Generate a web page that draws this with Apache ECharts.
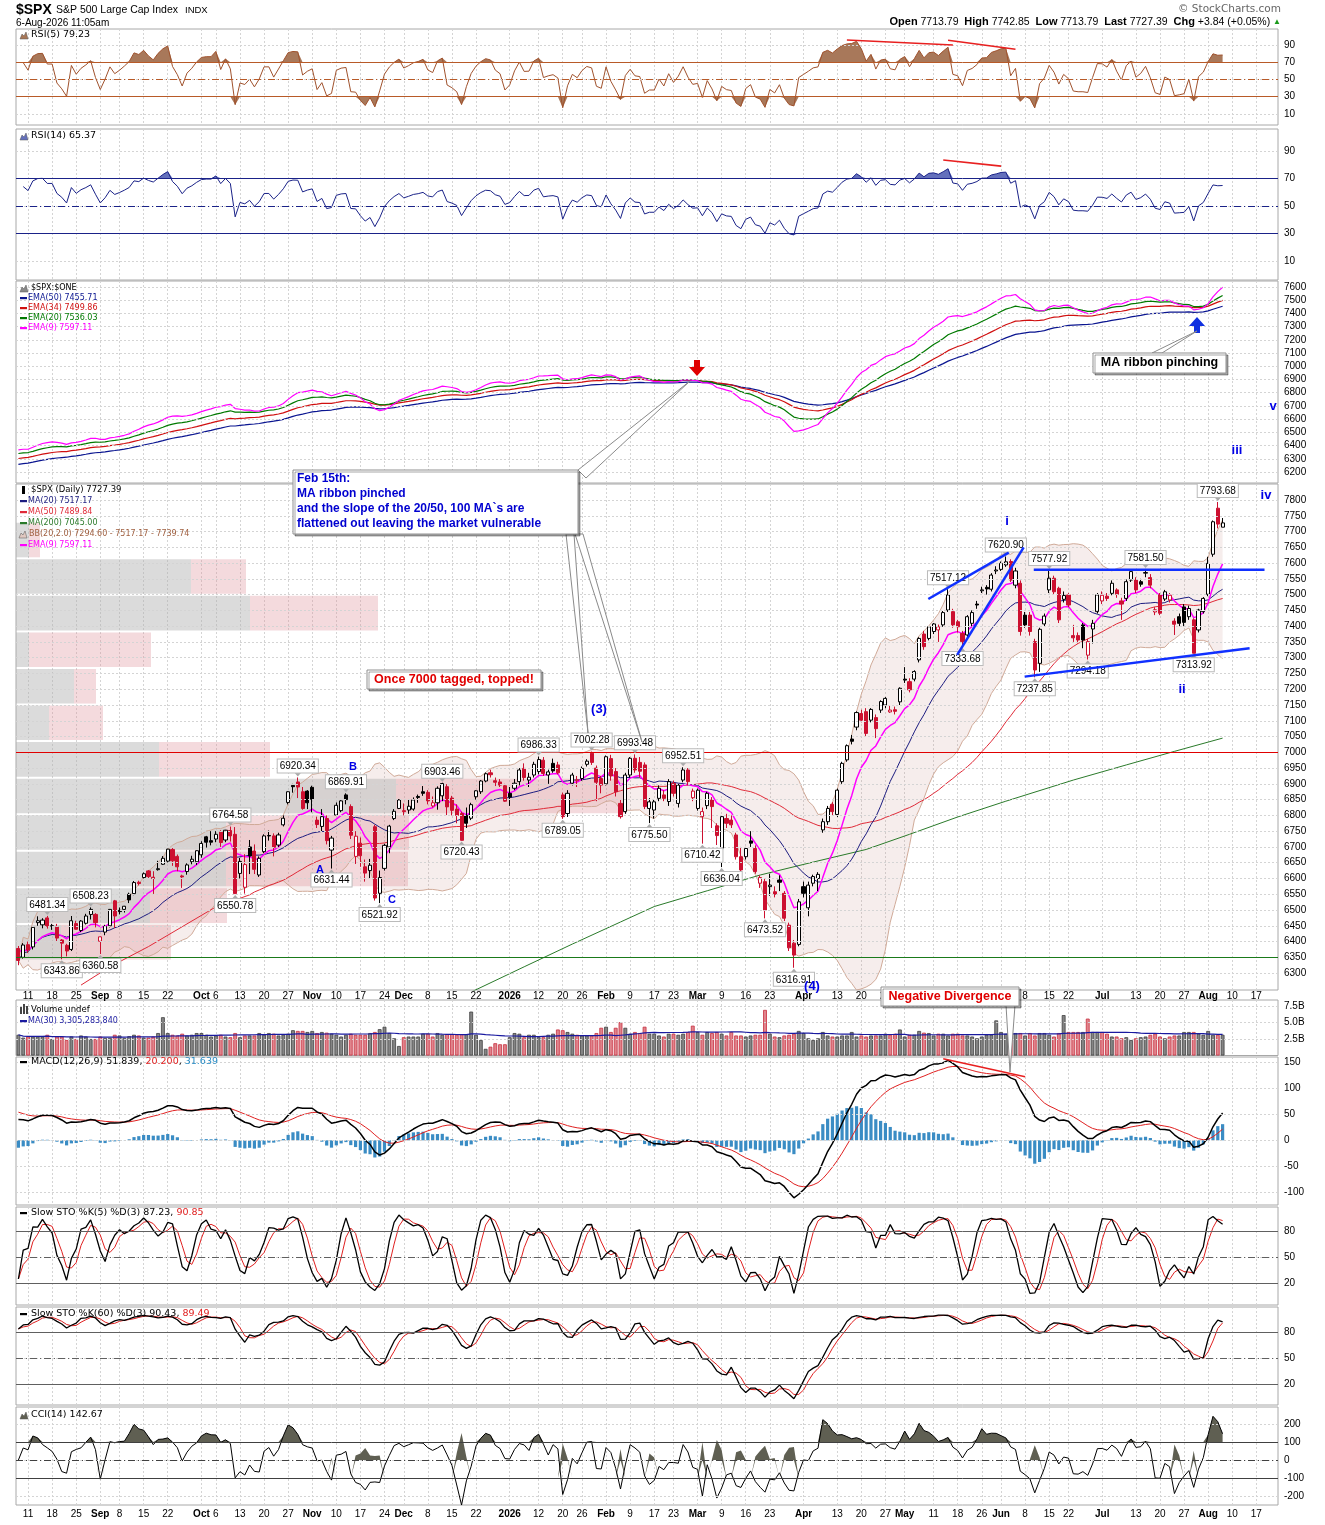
<!DOCTYPE html>
<html><head><meta charset="utf-8">
<script src="https://cdn.jsdelivr.net/npm/echarts@6/dist/echarts.min.js"></script>
<style>html,body{margin:0;padding:0;background:#fff}#c{width:1325px;height:1525px}</style>
</head><body><div id="c"></div>
<script>
// ---------------- DATA ----------------
const holidays = ['2025-09-01','2025-11-27','2025-12-25','2026-01-01','2026-01-19','2026-02-16','2026-04-03','2026-05-25','2026-06-19','2026-07-03'];
const firstDate = '2025-08-07';
const nCategories = 262; // 251 sessions + blank future sessions

// [open, high, low, close]
const candles = [
[6378,6386,6325,6340],[6350,6395,6346,6389],[6390,6400,6364,6373],[6383,6447,6375,6445],[6460,6480,6450,6466],
[6453,6474,6442,6468],[6475,6481.34,6441,6449],[6450,6456,6437,6449],[6446,6456,6400,6411],[6405,6408,6343.86,6395],
[6388,6393,6353,6370],[6375,6481,6370,6466],[6457,6466,6438,6439],[6435,6468,6430,6465],[6458,6488,6454,6481],
[6486,6508.23,6470,6502],[6486,6490,6445,6460],[6401,6416,6360.58,6415],[6430,6453,6420,6448],[6450,6503,6445,6502],
[6529,6532,6443,6481],[6499,6508,6486,6495],[6502,6513,6492,6512],[6550,6555,6522,6532],[6552,6592,6547,6587],
[6588,6593,6578,6584],[6603,6619,6600,6615],[6624,6627,6601,6606],[6604,6623,6551,6600],[6628,6656,6625,6631],
[6645,6671,6643,6664],[6655,6694,6651,6693],[6692,6699,6640,6656],[6670,6676,6623,6637],[6608,6612,6570,6605],
[6622,6648,6612,6643],[6653,6672,6645,6661],[6653,6689,6643,6688],[6675,6718,6666,6711],[6732,6735,6698,6715],
[6720,6750,6705,6715],[6725,6750,6715,6740],[6747,6753,6700,6714],[6722,6754,6715,6753],[6752,6764.58,6717,6735],
[6740,6763,6550.78,6552],[6616,6665,6600,6654],[6572,6677,6552,6644],[6700,6722,6614,6671],[6687,6708,6614,6629],
[6611,6670,6605,6664],[6685,6740,6680,6735],[6736,6752,6720,6735],[6735,6743,6670,6699],[6706,6745,6700,6738],
[6770,6800,6765,6791],[6841,6876,6835,6875],[6895,6900,6872,6891],[6906,6920.34,6855,6890],[6875,6890,6818,6822],
[6877,6880,6820,6840],[6889,6894,6810,6851],[6785,6796,6760,6771],[6765,6820,6750,6796],[6790,6800,6708,6720],
[6690,6735,6631.44,6728],[6801,6841,6800,6832],[6815,6850,6810,6846],[6865,6869.91,6835,6850],[6828,6835,6725,6737],
[6670,6750,6646,6734],[6712,6730,6637,6672],[6637,6660,6590,6617],[6625,6662,6600,6642],[6764,6770,6530,6538],
[6553,6625,6521.92,6603],[6632,6710,6625,6705],[6700,6770,6680,6766],[6790,6820,6785,6813],[6822,6852,6820,6849],
[6815,6838,6800,6812],[6817,6852,6805,6829],[6820,6857,6815,6849],[6860,6866,6840,6857],[6875,6893,6862,6870],
[6873,6880,6835,6846],[6830,6860,6825,6840],[6840,6892,6818,6886],[6862,6903.46,6845,6901],[6891,6899,6801,6827],
[6855,6862,6800,6816],[6820,6835,6775,6800],[6806,6812,6720.43,6721],[6800,6825,6760,6775],[6791,6840,6785,6834],
[6859,6880,6850,6878],[6875,6912,6868,6909],[6909,6936,6905,6932],[6935,6945,6920,6929],[6910,6920,6893,6905],
[6906,6915,6890,6896],[6894,6900,6843,6845],[6870,6890,6830,6858],[6886,6915,6880,6902],[6907,6950,6895,6944],
[6949,6965,6910,6920],[6912,6935,6890,6921],[6928,6970,6920,6962],[6939,6986.33,6930,6977],[6975,6985,6925,6933],
[6928,6945,6900,6938],[6965,6980,6935,6941],[6960,6970,6930,6935],[6865,6872,6789.05,6796],[6806,6880,6795,6870],
[6902,6935,6895,6928],[6910,6925,6890,6913],[6917,6955,6910,6949],[6962,6978,6955,6972],[6997,7002.28,6960,6968],
[6950,6958,6845,6905],[6917,6925,6870,6896],[6900,6990,6895,6986],[6980,6992,6910,6925],[6939,6950,6860,6875],
[6838,6850,6790,6796],[6812,6935,6805,6928],[6928,6985,6920,6981],[6981,6993.48,6935,6944],[6968,6985,6920,6940],
[6960,6968,6820,6828],[6822,6855,6775.50,6843],[6817,6850,6790,6843],[6854,6895,6845,6886],[6865,6880,6845,6854],
[6844,6915,6830,6907],[6902,6910,6860,6870],[6838,6900,6825,6896],[6912,6952.51,6905,6944],[6944,6950,6895,6907],
[6856,6885,6845,6877],[6822,6885,6815,6880],[6796,6825,6710.42,6812],[6831,6875,6820,6870],[6849,6858,6760,6828],
[6767,6775,6706,6736],[6696,6800,6636.04,6796],[6790,6805,6760,6775],[6785,6800,6760,6770],[6738,6745,6660,6669],
[6669,6700,6620,6627],[6669,6700,6660,6695],[6719,6750,6700,6712],[6695,6705,6615,6622],[6585,6610,6570,6603],
[6590,6600,6473.52,6500],[6574,6615,6545,6579],[6558,6575,6540,6550],[6595,6610,6560,6588],[6553,6560,6465,6474],
[6452,6460,6370,6380],[6395,6405,6316.91,6357],[6391,6535,6385,6526],[6574,6590,6540,6553],[6507,6590,6480,6579],
[6585,6612,6575,6606],[6600,6620,6560,6613],[6754,6790,6745,6780],[6780,6830,6770,6822],[6835,6842,6800,6812],
[6803,6885,6795,6880],[6907,6970,6900,6965],[6976,7025,6970,7021],[7042,7055,7025,7035],[7080,7130,7070,7126],
[7123,7135,7095,7102],[7129,7140,7050,7060],[7102,7140,7095,7136],[7110,7120,7045,7075],[7134,7165,7125,7161],
[7150,7175,7140,7171],[7128,7150,7125,7134],[7135,7145,7120,7130],[7160,7206,7150,7203],[7232,7270,7220,7229],
[7224,7235,7190,7198],[7232,7260,7225,7256],[7293,7365,7285,7361],[7375,7385,7325,7335],[7361,7400,7355,7398],
[7383,7410,7375,7407],[7388,7405,7350,7398],[7404,7448,7398,7443],[7451,7517.12,7445,7499],[7446,7455,7395,7404],
[7414,7420,7380,7398],[7377,7385,7333.68,7351],[7372,7435,7365,7430],[7409,7450,7400,7443],[7470,7480,7455,7467],
[7512,7525,7505,7515],[7523,7530,7500,7518],[7517,7568,7510,7562],[7575,7590,7565,7578],[7580,7605,7575,7599],
[7594,7620.90,7588,7604],[7605,7612,7540,7546],[7530,7585,7520,7575],[7536,7545,7370,7383],[7435,7445,7395,7404],
[7435,7445,7370,7383],[7351,7360,7237.85,7261],[7282,7395,7255,7390],[7407,7440,7400,7432],[7515,7577.92,7505,7552],
[7552,7560,7500,7509],[7520,7525,7410,7420],[7485,7510,7475,7497],[7499,7505,7460,7467],[7370,7404,7350,7363],
[7370,7380,7345,7356],[7404,7410,7330,7356],[7308,7360,7294.18,7351],[7391,7420,7345,7409],[7446,7505,7440,7499],
[7480,7510,7470,7498],[7495,7505,7480,7488],[7504,7545,7498,7536],[7515,7520,7490,7501],[7480,7490,7420,7470],
[7488,7548,7480,7541],[7546,7578,7540,7573],[7546,7555,7505,7515],[7541,7550,7525,7533],[7568,7581.50,7555,7570],
[7554,7565,7520,7530],[7445,7460,7435,7452],[7499,7505,7435,7441],[7486,7515,7480,7509],[7483,7505,7475,7498],
[7416,7425,7372,7406],[7430,7440,7400,7409],[7461,7470,7400,7412],[7430,7465,7420,7456],[7420,7425,7313.92,7314],
[7388,7455,7380,7451],[7446,7492,7440,7488],[7501,7620,7495,7599],[7628,7735,7620,7731],[7774,7793.68,7710,7723.55],
[7713.79,7742.85,7713.79,7727.39]
];

// daily volume, billions
const volumes = [
3.14,2.71,2.87,2.87,2.87,2.87,3.14,2.50,2.87,2.87,2.34,2.87,2.50,3.03,2.87,2.50,2.50,2.87,2.66,2.66,
3.14,3.03,2.66,2.93,3.14,3.03,2.71,2.71,2.87,3.40,5.80,3.40,3.14,3.03,3.30,3.03,3.14,3.40,3.40,3.14,
2.87,3.03,3.14,2.87,2.77,3.40,2.77,3.03,3.03,3.03,3.40,3.14,3.40,3.30,3.03,3.14,3.30,3.83,3.72,3.72,
3.56,3.72,3.40,3.56,3.46,3.30,3.14,2.87,3.14,3.30,3.14,3.14,3.14,3.40,3.56,3.99,4.36,3.40,2.61,1.44,
2.77,2.87,2.87,2.87,3.30,3.30,2.87,3.40,3.14,3.24,3.24,3.14,3.24,3.24,6.65,3.14,2.34,1.01,1.33,1.86,
1.70,1.70,2.77,3.40,3.30,2.77,3.14,3.14,2.77,2.77,3.14,3.30,3.94,3.83,3.56,3.30,3.14,3.03,3.03,3.03,
3.40,4.20,4.36,3.56,4.20,5.05,4.20,3.30,3.56,3.40,4.36,3.30,3.30,3.03,2.87,3.30,3.30,3.14,3.30,3.56,
4.52,3.56,3.14,3.56,3.40,3.56,3.30,3.03,3.56,3.03,3.03,2.87,3.03,3.14,3.14,6.91,3.30,2.87,2.77,3.03,
3.14,3.30,3.72,3.40,2.61,2.34,2.61,3.56,3.03,2.87,2.87,3.03,3.03,3.56,2.87,3.03,2.87,3.03,3.03,3.03,
3.30,3.14,3.30,3.94,2.87,3.14,3.14,3.72,3.46,3.40,3.03,3.30,3.30,3.03,3.30,3.30,3.03,3.03,2.87,2.61,
2.87,3.14,3.14,5.32,3.56,3.30,3.40,3.40,3.40,3.03,3.40,3.03,3.40,3.40,3.14,2.87,3.40,6.12,3.56,3.56,
3.56,3.56,5.59,3.56,3.56,3.56,3.30,2.87,2.87,2.61,2.77,2.34,2.61,2.77,2.87,3.14,3.30,2.87,2.61,2.87,
3.03,3.03,3.56,3.56,3.56,3.30,3.14,3.72,3.14,3.14,3.14
];

// MA(50) before 50 sessions exist, and MA(200) - [sessionIndex, value]
const ma50Early = [[13,6262],[19,6320],[27,6384],[34,6447],[41,6510],[48,6548]];
const ma200Read = [[94,6240],[105,6320],[115,6392],[125,6462],[132,6511],[143,6561],[154,6611],[165,6652],[176,6692],[185,6740],[195,6795],[205,6845],[219,6912],[230,6960],[240,7003],[250,7045]];
// indicator starting states, read at the left edge of each panel
const emaSeeds = {e9:6375, e12:6360, e20:6340, e26:6315, e34:6300, e50:6255, signal:58};
const rsiSeeds = {r5:[12,10.6], r14:[14,10]};            // [avg gain, avg loss] before the first session
const sto60Prior = {high:6427, lows:[[0,5900],[15,5980],[30,6100],[45,6300]]}; // range of the sessions before the first bar
// Volume-by-price bar lengths (px-equivalent), 12 zones from lowest to highest close
const vbpUp   = [45,134,210,210,380,143,33,58,13,234,175,13];
const vbpDown = [110,77,182,183,231,111,54,22,122,128,55,11];

const tickLabels = [['2025-08-11','11'],['2025-08-18','18'],['2025-08-25','25'],['2025-09-02','Sep'],['2025-09-08','8'],['2025-09-15','15'],['2025-09-22','22'],['2025-10-01','Oct'],['2025-10-06','6'],['2025-10-13','13'],['2025-10-20','20'],['2025-10-27','27'],['2025-11-03','Nov'],['2025-11-10','10'],['2025-11-17','17'],['2025-11-24','24'],['2025-12-01','Dec'],['2025-12-08','8'],['2025-12-15','15'],['2025-12-22','22'],['2026-01-02','2026'],['2026-01-12','12'],['2026-01-20','20'],['2026-01-26','26'],['2026-02-02','Feb'],['2026-02-09','9'],['2026-02-17','17'],['2026-02-23','23'],['2026-03-02','Mar'],['2026-03-09','9'],['2026-03-16','16'],['2026-03-23','23'],['2026-04-01','Apr'],['2026-04-13','13'],['2026-04-20','20'],['2026-04-27','27'],['2026-05-01','May'],['2026-05-11','11'],['2026-05-18','18'],['2026-05-26','26'],['2026-06-01','Jun'],['2026-06-08','8'],['2026-06-15','15'],['2026-06-22','22'],['2026-07-01','Jul'],['2026-07-13','13'],['2026-07-20','20'],['2026-07-27','27'],['2026-08-03','Aug'],['2026-08-10','10'],['2026-08-17','17']];

// price labels at marked highs/lows: [sessionIndex, price, isHigh]
const extremeLabels = [[6,6481.34,1],[9,6343.86,0],[15,6508.23,1],[17,6360.58,0],[44,6764.58,1],[45,6550.78,0],[58,6920.34,1],[65,6631.44,0],[68,6869.91,1],[75,6521.92,0],[88,6903.46,1],[92,6720.43,0],[108,6986.33,1],[113,6789.05,0],[119,7002.28,1],[128,6993.48,1],[131,6775.50,0],[138,6952.51,1],[142,6710.42,0],[146,6636.04,0],[155,6473.52,0],[161,6316.91,0],[193,7517.12,1],[196,7333.68,0],[205,7620.90,1],[211,7237.85,0],[214,7577.92,1],[222,7294.18,0],[234,7581.50,1],[244,7313.92,0],[249,7793.68,1]];

// hand-drawn trend lines on the price panel [[index, price],[index, price]]
const trendLines = [[[188.9,7486],[205.6,7633]],[[194.9,7309],[208.7,7650]],[[210.8,7579],[258.7,7579]],[[208.9,7240],[255.6,7330]]];
// hand-drawn divergence lines [[index, value],[index, value]]
const rsi5Div = [[[172,95.9],[194,90.1]],[[193,95.6],[207,85.1]]];
const rsi14Div = [[[192,83.3],[204,78.9]]];
const macdDiv = [[[192,157.7],[209,123]]];

// ---------------- helpers ----------------
const FONT = 'Liberation Sans, Arial, sans-serif';
const LFONT = 'DejaVu Sans, Verdana, sans-serif';
function buildDates(){const out=[];const d=new Date(firstDate+'T00:00:00Z');while(out.length<nCategories){const wd=d.getUTCDay();const s=d.toISOString().slice(0,10);if(wd!==0&&wd!==6&&holidays.indexOf(s)<0)out.push(s);d.setUTCDate(d.getUTCDate()+1);}return out;}
const dates = buildDates();
const highs=candles.map(r=>r[1]), lows=candles.map(r=>r[2]), closes=candles.map(r=>r[3]);
function smaArr(a,n){const o=[];let s=0;const q=[];for(let i=0;i<a.length;i++){s+=a[i];q.push(a[i]);if(q.length>n)s-=q.shift();o.push(s/q.length);}return o;}
function emaArr(a,n,seed){const k=2/(n+1);let e=seed;return a.map(v=>{e=(e==null)?v:v*k+e*(1-k);return e;});}
function rsiArr(c,n,seed){const o=[null];let ag=seed[0],al=seed[1];for(let i=1;i<c.length;i++){const d=c[i]-c[i-1];ag=(ag*(n-1)+Math.max(d,0))/n;al=(al*(n-1)+Math.max(-d,0))/n;o.push(al===0?100:100-100/(1+ag/al));}return o;}
function priorLow(i){let v=null;sto60Prior.lows.forEach(([k,l])=>{if(i>=k)v=l;});return v;}
function stoch(n,prior){const fk=closes.map((c,i)=>{const s=Math.max(0,i-n+1);let hh=-Infinity,ll=Infinity;for(let j=s;j<=i;j++){hh=Math.max(hh,highs[j]);ll=Math.min(ll,lows[j]);}
  if(prior&&i-n+1<0){hh=Math.max(hh,prior.high);ll=Math.min(ll,priorLow(i));}return hh===ll?50:(c-ll)/(hh-ll)*100;});const k=smaArr(fk,3);return [k,smaArr(k,3)];}

const ma20 = smaArr(closes,20);
const ma50c = smaArr(closes,50);
const ma50 = closes.map((_,i)=>i>=49?ma50c[i]:null); ma50Early.forEach(([i,v])=>{ma50[i]=v;});
const ma200 = closes.map(()=>null); ma200Read.forEach(([i,v])=>{ma200[i]=v;});
const bbStd = closes.map((c,i)=>{const s=Math.max(0,i-19);let v=0;for(let j=s;j<=i;j++)v+=(closes[j]-ma20[i])**2;return Math.sqrt(v/(i-s+1));});
const bbUp = ma20.map((m,i)=>m+2*bbStd[i]), bbLo = ma20.map((m,i)=>m-2*bbStd[i]);
const ema9 = emaArr(closes,9,emaSeeds.e9), ema20=emaArr(closes,20,emaSeeds.e20), ema34=emaArr(closes,34,emaSeeds.e34), ema50=emaArr(closes,50,emaSeeds.e50);
const e12 = emaArr(closes,12,emaSeeds.e12), e26=emaArr(closes,26,emaSeeds.e26);
const macd = e12.map((v,i)=>v-e26[i]); const signal = emaArr(macd,9,emaSeeds.signal); const hist = macd.map((v,i)=>v-signal[i]);
const rsi5 = rsiArr(closes,5,rsiSeeds.r5), rsi14 = rsiArr(closes,14,rsiSeeds.r14);
const [sk5,sd5] = stoch(5,null), [sk60,sd60] = stoch(60,sto60Prior);
const tp = candles.map(r=>(r[1]+r[2]+r[3])/3); const tpS = smaArr(tp,14);
const cci = tp.map((v,i)=>{const s=Math.max(0,i-13);let md=0;for(let j=s;j<=i;j++)md+=Math.abs(tp[j]-tpS[i]);md/=(i-s+1);return md===0?0:(v-tpS[i])/(0.015*md);});
const volAbs = volumes.map(v=>v*1e9); const volMA = smaArr(volAbs,30);

const RED='#cc1030', NAVY='#1c1c80';
const labelMap = {}; tickLabels.forEach(([d,t])=>labelMap[d]=t);
const boldSet = new Set(['Sep','Oct','Nov','Dec','2026','Feb','Mar','Apr','May','Jun','Jul','Aug']);

const L = 16, W = 1262;
const panels = [ // top, height, min, max
 [29,96,-2.9,108.7],[129,151,-4,105.9],[281,202,6116.8,7645.4],[484,506,6246.4,7850.7],[1000,55.5,0,8.41e9],[1057,148,-125,161],[1207,98,-5.4,107.7],[1307,98,-4.2,108.8],[1407,98,-250,294.4]
];
const yLabels = [[10,30,50,70,90],[10,30,50,70,90],[6200,6300,6400,6500,6600,6700,6800,6900,7000,7100,7200,7300,7400,7500,7600],
 [6300,6350,6400,6450,6500,6550,6600,6650,6700,6750,6800,6850,6900,6950,7000,7050,7100,7150,7200,7250,7300,7350,7400,7450,7500,7550,7600,7650,7700,7750,7800],
 [2.5e9,5e9,7.5e9],[-100,-50,0,50,100,150],[20,50,80],[20,50,80],[-200,-100,0,100,200]];

const grids = panels.map(p=>({left:L,top:p[0],width:W,height:p[1],show:true,borderColor:'#a8a8a8',borderWidth:1,backgroundColor:'#fff',outerBoundsMode:'none'}));
grids.push({left:L,top:panels[3][0],width:W,height:panels[3][1],show:false,outerBoundsMode:'none'});

const xAxes = panels.map((p,gi)=>({type:'category',gridIndex:gi,data:dates,boundaryGap:true,axisLine:{show:false},axisTick:{show:false},
  axisLabel:{show:(gi===3||gi===8),interval:(idx,val)=>!!labelMap[val],formatter:(val)=>{const t=labelMap[val]||'';return boldSet.has(t)?'{b|'+t+'}':t;},
   rich:{b:{fontWeight:'bold',fontSize:10,fontFamily:FONT,color:'#000'}},fontSize:10,fontFamily:FONT,color:'#000',margin:gi===3?1:4},
  splitLine:{show:true,alignWithLabel:true,interval:(idx,val)=>!!labelMap[val],lineStyle:{color:'#d4d4d4',type:[2,2],width:1}}}));
xAxes.push({type:'value',gridIndex:9,min:-0.5,max:nCategories-0.5,show:false});
xAxes.push({type:'value',gridIndex:9,min:0,max:W,show:false});

const volFmt = v=>(v/1e9).toFixed(1)+'B';
const yAxes = panels.map((p,gi)=>({type:'value',gridIndex:gi,position:'right',min:p[2],max:p[3],axisLine:{show:false},
  axisTick:{show:false,customValues:yLabels[gi]},splitLine:{show:false},
  axisLabel:{customValues:yLabels[gi],formatter:gi===4?volFmt:(v=>String(v)),fontSize:10,fontFamily:FONT,color:'#000',margin:6}}));
yAxes.push({type:'value',gridIndex:9,min:panels[3][2],max:panels[3][3],show:false});

function gridLineSeries(gi,vals){return {type:'line',xAxisIndex:gi,yAxisIndex:gi,data:dates.map(()=>null),z:0,silent:true,symbol:'none',
  markLine:{silent:true,symbol:'none',animation:false,label:{show:false},lineStyle:{color:'#d4d4d4',type:[2,2],width:1},data:vals.map(v=>({yAxis:v}))}};}
const DASHDOT=[7,3,1,3];
function refData(list){return list.map(([v,c,t,w])=>({yAxis:v,lineStyle:{color:c,type:t||'solid',width:w||1}}));}
function divData(list){return list.map(([a,b])=>[{coord:a,lineStyle:{color:'#e82020',width:1.6,type:'solid'}},{coord:b}]);}
function mk(data){return {silent:true,symbol:'none',animation:false,label:{show:false},data};}
function lineS(gi,data,color,w,extra){return Object.assign({type:'line',xAxisIndex:gi,yAxisIndex:gi,data,symbol:'none',showSymbol:false,lineStyle:{color,width:w||1},itemStyle:{color},z:3,silent:true,animation:false},extra||{});}
function fillPair(gi,src,thr,above,color,stackName){
  const base = src.map(v=>v==null?null:(above?thr:Math.min(v,thr)));
  const ext = src.map(v=>v==null?null:(above?Math.max(v,thr)-thr:thr-Math.min(v,thr)));
  return [lineS(gi,base,'rgba(0,0,0,0)',0,{stack:stackName,lineStyle:{opacity:0},z:2}),
          lineS(gi,ext,'rgba(0,0,0,0)',0,{stack:stackName,lineStyle:{opacity:0},areaStyle:{color,opacity:1},z:2})];
}

// candles
const candleData = candles.map((r,i)=>{const [o,h,l,c]=r;const prev=i>0?candles[i-1][3]:o;const col=c<prev?RED:'#000';const fill=c<o?col:'#fff';
  return {value:[o,c,l,h],itemStyle:{color:fill,color0:fill,borderColor:col,borderColor0:col,borderWidth:1}};});
const markPts = extremeLabels.map(([i,p,hi])=>({coord:[i,p],value:p,symbol:'triangle',symbolSize:[7,4],symbolRotate:hi?180:0,symbolOffset:[0,hi?-3:3],
  itemStyle:{color:'#aaa'},label:{show:true,position:hi?'top':'bottom',distance:0,formatter:p.toFixed(2),backgroundColor:'#fff',borderColor:'#bbb',borderWidth:1,padding:[2,2,1,2],fontSize:10,fontFamily:FONT,color:'#000'}}));

// volume-by-price zones from close range
const minC = Math.min(...closes), maxC = Math.max(...closes), zStep=(maxC-minC)/vbpUp.length;
const vbpData = vbpUp.map((u,k)=>[minC+k*zStep, minC+(k+1)*zStep, u, vbpDown[k]]);

const series = [];
panels.forEach((p,gi)=>series.push(gridLineSeries(gi,yLabels[gi])));
// RSI(5)
series.push(...fillPair(0,rsi5,70,true,'#a8785a','r5a'), ...fillPair(0,rsi5,30,false,'#a8785a','r5b'));
series.push(lineS(0,rsi5,'#a0522d',1,{markLine:mk([...refData([[70,'#b85a28'],[30,'#b85a28'],[50,'#b85a28',DASHDOT]]),...divData(rsi5Div)])}));
// RSI(14)
series.push(...fillPair(1,rsi14,70,true,'#6470bc','r14a'), ...fillPair(1,rsi14,30,false,'#6470bc','r14b'));
series.push(lineS(1,rsi14,'#1a2288',1,{markLine:mk([...refData([[70,'#1a2288'],[30,'#1a2288'],[50,'#1a2288',DASHDOT]]),...divData(rsi14Div)])}));
// ribbon
series.push(lineS(2,ema50,'#0a1590',1.2), lineS(2,ema34,'#d01010',1.2), lineS(2,ema20,'#007a00',1.2), lineS(2,ema9,'#ff00ff',1.2));
// price
series.push(lineS(3,bbLo,'rgba(0,0,0,0)',0,{stack:'bb',lineStyle:{opacity:0},z:1}));
series.push(lineS(3,bbUp.map((u,i)=>u-bbLo[i]),'rgba(0,0,0,0)',0,{stack:'bb',lineStyle:{opacity:0},areaStyle:{color:'rgba(200,150,145,0.24)'},z:1}));
series.push(lineS(3,bbUp,'#d0aa98',1,{z:2}), lineS(3,bbLo,'#d0aa98',1,{z:2}));
series.push(lineS(3,ma200,'#2a7a2a',1,{connectNulls:true}), lineS(3,ma50,'#e02a38',1,{connectNulls:true}), lineS(3,ma20,NAVY,1), lineS(3,ema9,'#ff00ff',1.5));
series.push({type:'candlestick',xAxisIndex:3,yAxisIndex:3,data:candleData,barWidth:3.6,z:4,silent:true,animation:false,
  markPoint:{data:markPts,silent:true,animation:false,z:6},
  markLine:mk(refData([[7000,'#e00000',null,1.2],[6350,'#1a7a1a',null,1.2]]))});
series.push({type:'custom',xAxisIndex:10,yAxisIndex:9,data:vbpData,z:1,silent:true,animation:false,
  renderItem:(params,api)=>{const lo=api.value(0),hi=api.value(1),u=api.value(2),d=api.value(3);
    const a=api.coord([0,hi]),b=api.coord([u,lo]),c=api.coord([u+d,lo]);
    return {type:'group',children:[
      {type:'rect',shape:{x:a[0],y:a[1]+1,width:b[0]-a[0],height:b[1]-a[1]-2},style:{fill:'rgba(175,175,175,0.45)'}},
      {type:'rect',shape:{x:b[0],y:a[1]+1,width:c[0]-b[0],height:b[1]-a[1]-2},style:{fill:'rgba(220,140,148,0.32)'}}]};}});
trendLines.forEach(tl=>series.push({type:'line',xAxisIndex:9,yAxisIndex:9,data:tl,symbol:'none',lineStyle:{color:'#1030ff',width:2.5},z:7,silent:true,animation:false}));
// volume
series.push({type:'bar',xAxisIndex:4,yAxisIndex:4,barWidth:3.8,z:3,silent:true,animation:false,
  data:volAbs.map((v,i)=>{const dn=i>0&&closes[i]<closes[i-1];return {value:v,itemStyle:dn?{color:'#e0848c',borderColor:'#c83040',borderWidth:0.8}:{color:'#858585',borderColor:'#404040',borderWidth:0.8}};})});
series.push(lineS(4,volMA,'#1a1aa0',1.2,{z:4}));
// MACD
series.push({type:'bar',xAxisIndex:5,yAxisIndex:5,data:hist,barWidth:3.2,itemStyle:{color:'#3a8cc4'},z:2,silent:true,animation:false});
series.push(lineS(5,signal,'#e02020',1), lineS(5,macd,'#000',1.5,{markLine:mk(divData(macdDiv))}));
// STO
[[6,sk5,sd5],[7,sk60,sd60]].forEach(([gi,k,d])=>{
  series.push(lineS(gi,d,'#e02020',1), lineS(gi,k,'#000',1.3,{markLine:mk(refData([[80,'#606060'],[20,'#606060'],[50,'#606060',DASHDOT]]))}));});
// CCI
series.push(...fillPair(8,cci,100,true,'#5f5f52','cA'), ...fillPair(8,cci,-100,false,'#5f5f52','cB'));
series.push(lineS(8,cci,'#000',1,{markLine:mk(refData([[100,'#404040'],[-100,'#404040'],[0,'#404040',DASHDOT]]))}));

// ---------------- text, boxes, callouts ----------------
function T(x,y,text,o){return {type:'text',x,y,z:100,silent:true,style:Object.assign({text,fill:'#000',fontSize:9,fontFamily:FONT,align:'left',verticalAlign:'middle'},o||{})};}
function box(x,y,w,h){return {type:'rect',z:99,silent:true,shape:{x,y,width:w,height:h},style:{fill:'#fff',stroke:'#909090',lineWidth:1,shadowColor:'rgba(0,0,0,0.35)',shadowBlur:0,shadowOffsetX:2,shadowOffsetY:2}};}
function wedge(pts){return {type:'polygon',z:98,silent:true,shape:{points:pts},style:{fill:'#fff',stroke:'#8a8a8a',lineWidth:1}};}
function leg(x,y,parts,size){return {type:'text',x,y,z:100,silent:true,style:{text:parts.map((p,i)=>'{s'+i+'|'+p[0]+'}').join(''),rich:Object.fromEntries(parts.map((p,i)=>['s'+i,{fill:p[1],fontSize:size||8,fontFamily:LFONT,fontWeight:p[2]||'normal'}])),align:'left',verticalAlign:'middle'}};}
function mountain(x,y,color){return {type:'polygon',z:100,silent:true,shape:{points:[[x,y+4],[x+2,y-1],[x+4,y+1],[x+6,y-3],[x+8,y+4]]},style:{fill:color,stroke:'#555',lineWidth:0.5}};}
function dash(x,y,color){return {type:'rect',z:100,silent:true,shape:{x,y:y-1,width:7,height:2.2},style:{fill:color}};}
const blueBold = {fill:'#0000e6',fontWeight:'bold',fontSize:13,align:'center'};
const graphics = [
 T(16,10,'$SPX',{fontSize:14,fontWeight:'bold'}), T(56,10,'S&P 500 Large Cap Index',{fontSize:10.5}), T(185,10,'INDX',{fontSize:9.5}),
 T(16,23,'6-Aug-2026 11:05am',{fontSize:10}), T(1281,9,'\u00a9 StockCharts.com',{fontSize:10.5,fill:'#666',align:'right',fontFamily:LFONT}),
 {type:'text',x:1281,y:22,z:100,silent:true,style:{text:'{b|Open} 7713.79  {b|High} 7742.85  {b|Low} 7713.79  {b|Last} 7727.39  {b|Chg} +3.84 (+0.05%) {g|\u25b2}',rich:{b:{fontWeight:'bold',fontSize:11,fontFamily:FONT},g:{fill:'#1a9a1a',fontSize:8}},fontSize:10.5,fontFamily:FONT,fill:'#000',align:'right',verticalAlign:'middle'}},
 mountain(20,35,'#a87858'), leg(31,35,[['RSI(5) 79.23','#000']],9.5),
 mountain(20,136,'#6470bc'), leg(31,136,[['RSI(14) 65.37','#000']],9.5),
 mountain(20,288,'#888'), leg(31,288,[['$SPX:$ONE','#000']]),
 dash(20,298,'#0a1590'), leg(28,298,[['EMA(50) 7455.71','#0a1590']]), dash(20,308,'#d01010'), leg(28,308,[['EMA(34) 7499.86','#d01010']]),
 dash(20,318,'#007a00'), leg(28,318,[['EMA(20) 7536.03','#007a00']]), dash(20,328,'#ff00ff'), leg(28,328,[['EMA(9) 7597.11','#ff00ff']]),
 {type:'rect',z:100,silent:true,shape:{x:22,y:486,width:3,height:8},style:{fill:'#000'}}, leg(31,490,[['$SPX (Daily) 7727.39','#000']],8.5),
 dash(20,501,'#1c1c80'), leg(28,501,[['MA(20) 7517.17','#1c1c80']]), dash(20,512,'#e02a38'), leg(28,512,[['MA(50) 7489.84','#e02a38']]),
 dash(20,523,'#2a7a2a'), leg(28,523,[['MA(200) 7045.00','#2a7a2a']]), mountain(19,534,'#e0c8c0'), leg(29,534,[['BB(20,2.0) 7294.60 - 7517.17 - 7739.74','#a06040']]),
 dash(20,545,'#ff00ff'), leg(28,545,[['EMA(9) 7597.11','#ff00ff']]),
 {type:'rect',z:100,silent:true,shape:{x:20,y:1007,width:2,height:7},style:{fill:'#444'}},{type:'rect',z:100,silent:true,shape:{x:23,y:1004,width:2,height:10},style:{fill:'#444'}},{type:'rect',z:100,silent:true,shape:{x:26,y:1006,width:2,height:8},style:{fill:'#444'}},
 leg(31,1010,[['Volume undef','#000']],8.5), dash(20,1021,'#1a1aa0'), leg(28,1021,[['MA(30) 3,305,283,840','#1a1aa0']]),
 dash(20,1062,'#000'), leg(31,1062,[['MACD(12,26,9) 51.839','#000'],[', ','#000'],['20.200','#e02020'],[', ','#000'],['31.639','#2a8cc4']],9.5),
 dash(20,1213,'#000'), leg(31,1213,[['Slow STO %K(5) %D(3) 87.23, ','#000'],['90.85','#e02020']],9.5),
 dash(20,1314,'#000'), leg(31,1314,[['Slow STO %K(60) %D(3) 90.43, ','#000'],['89.49','#e02020']],9.5),
 mountain(20,1415,'#5f5f52'), leg(31,1415,[['CCI(14) 142.67','#000']],9.5),
 // callouts
 wedge([[578,470],[586,478],[690,381]]), wedge([[566,534],[574,534],[588,733]]), wedge([[575,534],[583,534],[642,742]]),
 wedge([[1152,353],[1162,353],[1197,331]]), wedge([[1006,1005],[1015,1005],[1010,1072]]),
 box(293,470,285,64),
 T(297,479,'Feb 15th:',{fill:'#0000d0',fontWeight:'bold',fontSize:12}), T(297,494,'MA ribbon pinched',{fill:'#0000d0',fontWeight:'bold',fontSize:12}),
 T(297,509,'and the slope of the 20/50, 100 MA`s are',{fill:'#0000d0',fontWeight:'bold',fontSize:12}), T(297,524,'flattened out leaving the market vulnerable',{fill:'#0000d0',fontWeight:'bold',fontSize:12}),
 box(367,670,174,19), T(454,679.5,'Once 7000 tagged, topped!',{fill:'#e00000',fontWeight:'bold',fontSize:12.5,align:'center'}),
 box(1093,353,133,20), T(1159.5,363,'MA ribbon pinching',{fontWeight:'bold',fontSize:12.5,align:'center'}),
 box(881,987,138,19), T(950,996.5,'Negative Divergence',{fill:'#e00000',fontWeight:'bold',fontSize:12.5,align:'center'}),
 // arrows
 {type:'polygon',z:97,silent:true,shape:{points:[[694,360],[700,360],[700,367],[705,367],[697,376],[689,367],[694,367]]},style:{fill:'#e00000'}},
 {type:'polygon',z:97,silent:true,shape:{points:[[1197,317],[1205,326],[1200,326],[1200,333],[1194,333],[1194,326],[1189,326]]},style:{fill:'#1030e0'}},
 // wave labels
 T(599,709,'(3)',blueBold), T(812,986,'(4)',blueBold), T(320,870,'A',Object.assign({},blueBold,{fontSize:11})), T(353,767,'B',Object.assign({},blueBold,{fontSize:11})),
 T(392,900,'C',Object.assign({},blueBold,{fontSize:11})), T(1007,521,'i',blueBold), T(1182,689,'ii',blueBold), T(1237,450,'iii',blueBold),
 T(1266,495,'iv',blueBold), T(1273,406,'v',blueBold)
];

const chart = echarts.init(document.getElementById('c'),null,{renderer:'canvas'});
chart.setOption({animation:false,backgroundColor:'#fff',grid:grids,xAxis:xAxes,yAxis:yAxes,series,graphic:graphics});
</script></body></html>
